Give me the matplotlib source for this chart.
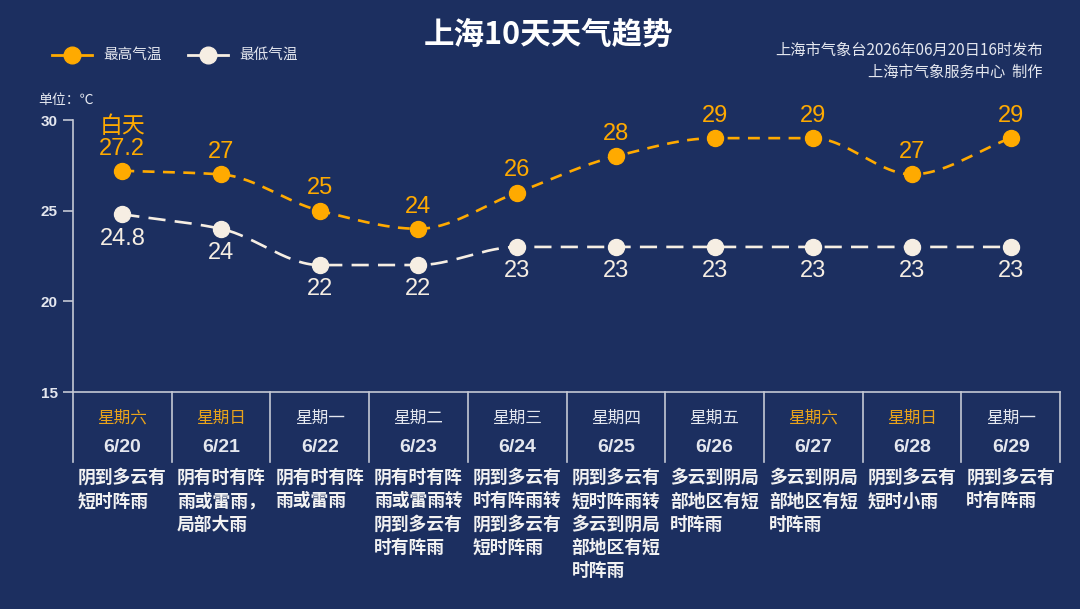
import numpy as np
import matplotlib
matplotlib.use("Agg")
import matplotlib.pyplot as plt
from matplotlib.lines import Line2D
from matplotlib.transforms import blended_transform_factory

# ---------------- data ----------------
dates = ["6/20", "6/21", "6/22", "6/23", "6/24", "6/25", "6/26", "6/27", "6/28", "6/29"]
weekdays = ["星期六", "星期日", "星期一", "星期二", "星期三", "星期四", "星期五", "星期六", "星期日", "星期一"]
high = [27.2, 27, 25, 24, 26, 28, 29, 29, 27, 29]
low = [24.8, 24, 22, 22, 23, 23, 23, 23, 23, 23]
high_labels = ["27.2", "27", "25", "24", "26", "28", "29", "29", "27", "29"]
low_labels = ["24.8", "24", "22", "22", "23", "23", "23", "23", "23", "23"]
weather = [
    "阴到多云有短时阵雨",
    "阴有时有阵雨或雷雨，局部大雨",
    "阴有时有阵雨或雷雨",
    "阴有时有阵雨或雷雨转阴到多云有时有阵雨",
    "阴到多云有时有阵雨转阴到多云有短时阵雨",
    "阴到多云有短时阵雨转多云到阴局部地区有短时阵雨",
    "多云到阴局部地区有短时阵雨",
    "多云到阴局部地区有短时阵雨",
    "阴到多云有短时小雨",
    "阴到多云有时有阵雨",
]
yticks = [15, 20, 25, 30]
title = "上海10天天气趋势"
legend_names = ["最高气温", "最低气温"]

# ---------------- style ----------------
BG = "#1c2f60"
ORANGE = "#FFAA00"
CREAM = "#F6EEE3"
WEEKEND = "#E9A31A"
GRID = "#c4c8d4"
TXT = "#e4e7ef"
CJK = ["Noto Sans CJK SC", "DejaVu Sans"]
NUM = ["Liberation Sans", "DejaVu Sans"]

W, H = 1080, 609
fig = plt.figure(figsize=(W / 100, H / 100), dpi=100, facecolor=BG)


def fx(x):
    return x / W


def fy(y):
    return 1 - y / H


L, R, T, B = 73, 1060, 120, 392
ax = fig.add_axes([fx(L), fy(B), fx(R) - fx(L), fy(T) - fy(B)])
ax.set_facecolor(BG)
n = len(dates)
ax.set_xlim(-0.5, n - 0.5)
ax.set_ylim(15, 30)
for s in ["top", "right", "left"]:
    ax.spines[s].set_visible(False)
ax.spines["bottom"].set_color(GRID)
ax.spines["bottom"].set_linewidth(1.2)
ax.set_xticks([])
ax.set_yticks(yticks)
ax.tick_params(axis="y", colors=GRID, length=7, width=1.2, pad=4)
for lab in ax.get_yticklabels():
    lab.set_fontfamily(NUM)
    lab.set_fontweight("bold")
    lab.set_fontsize(11)
    lab.set_color(TXT)


def monotone(xs, ys, per=30):
    xs = np.asarray(xs, float)
    ys = np.asarray(ys, float)
    h = np.diff(xs)
    d = np.diff(ys) / h
    m = np.zeros_like(ys)
    m[0], m[-1] = d[0], d[-1]
    for i in range(1, len(ys) - 1):
        if d[i - 1] * d[i] <= 0:
            m[i] = 0
        else:
            w1 = 2 * h[i] + h[i - 1]
            w2 = h[i] + 2 * h[i - 1]
            m[i] = (w1 + w2) / (w1 / d[i - 1] + w2 / d[i])
    ox, oy = [], []
    for i in range(len(xs) - 1):
        t = np.linspace(0, 1, per, endpoint=(i == len(xs) - 2))
        h00 = 2 * t**3 - 3 * t**2 + 1
        h10 = t**3 - 2 * t**2 + t
        h01 = -2 * t**3 + 3 * t**2
        h11 = t**3 - t**2
        ox.append(xs[i] + t * h[i])
        oy.append(h00 * ys[i] + h10 * h[i] * m[i] + h01 * ys[i + 1] + h11 * h[i] * m[i + 1])
    return np.concatenate(ox), np.concatenate(oy)


x = np.arange(n)
sx, sy = monotone(x, high)
ax.plot(sx, sy, color=ORANGE, lw=1.9, dashes=(4.5, 3.2), clip_on=False, zorder=3)
sx, sy = monotone(x, low)
ax.plot(sx, sy, color=CREAM, lw=1.9, dashes=(6.5, 3.5), clip_on=False, zorder=3)
ax.plot(x, high, "o", color=ORANGE, ms=11.5, clip_on=False, zorder=4)
ax.plot(x, low, "o", color=CREAM, ms=11.5, clip_on=False, zorder=4)

for i in range(n):
    ax.annotate(high_labels[i], (x[i], high[i]), xytext=(0, 16), textcoords="offset points",
                ha="center", va="center", color=ORANGE, fontsize=17, fontfamily=NUM, zorder=5)
    ax.annotate(low_labels[i], (x[i], low[i]), xytext=(0, -17.5), textcoords="offset points",
                ha="center", va="center", color=CREAM, fontsize=17, fontfamily=NUM, zorder=5)
ax.annotate("白天", (x[0], high[0]), xytext=(0, 32), textcoords="offset points",
            ha="center", va="center", color=ORANGE, fontsize=16.5, fontfamily=CJK, zorder=5)

# ---------------- table below axis ----------------
bt = blended_transform_factory(ax.transData, fig.transFigure)
table_bottom = 462
fig.add_artist(Line2D([fx(L), fx(L)], [fy(T), fy(table_bottom)], color=GRID, lw=1.2))
for i in range(1, n + 1):
    ax.add_line(Line2D([i - 0.5, i - 0.5], [fy(B), fy(table_bottom)], transform=bt,
                       color=GRID, lw=1.2, clip_on=False))

weekend_set = {"星期六", "星期日"}
for i in range(n):
    c = WEEKEND if weekdays[i] in weekend_set else TXT
    ax.text(x[i], fy(418), weekdays[i], transform=bt, ha="center", va="center",
            color=c, fontsize=12, fontfamily=CJK)
    ax.text(x[i], fy(447), dates[i], transform=bt, ha="center", va="center",
            color=TXT, fontsize=14, fontfamily=NUM, fontweight="bold")
    s = weather[i]
    lines = [s[k:k + 5] for k in range(0, len(s), 5)]
    for j, ln in enumerate(lines):
        ax.text(i - 0.5 + 0.05, fy(478 + j * 23.3), ln, transform=bt, ha="left", va="center",
                color="#f2f2f2", fontsize=12.8, fontfamily=CJK, fontweight="bold")

# ---------------- title / header ----------------
fig.text(fx(549), fy(35), title, ha="center", va="center", color="white",
         fontsize=22, fontweight="bold", fontfamily=CJK)
fig.text(fx(1043), fy(50), "上海市气象台2026年06月20日16时发布", ha="right", va="center",
         color=TXT, fontsize=11, fontfamily=CJK)
fig.text(fx(1043), fy(72), "上海市气象服务中心  制作", ha="right", va="center",
         color=TXT, fontsize=11, fontfamily=CJK)
fig.text(fx(38), fy(100), "单位：℃", ha="left", va="center", color=TXT,
         fontsize=10, fontfamily=CJK)

# legend
for (x0, col, name) in [(52, ORANGE, legend_names[0]), (188, CREAM, legend_names[1])]:
    fig.add_artist(Line2D([fx(x0), fx(x0 + 40)], [fy(55), fy(55)], color=col, lw=2))
    fig.add_artist(Line2D([fx(x0 + 20)], [fy(55)], marker="o", color=col, ms=12, lw=0))
    fig.text(fx(x0 + 51), fy(55), name, ha="left", va="center", color=TXT,
             fontsize=10.5, fontfamily=CJK, fontweight="medium")

fig.savefig("out.png", dpi=100, facecolor=BG)
